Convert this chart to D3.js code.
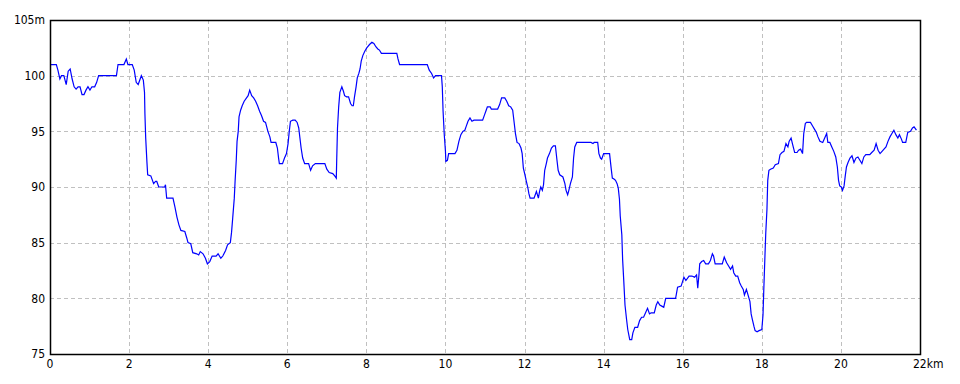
<!DOCTYPE html>
<html>
<head>
<meta charset="utf-8">
<script src="https://d3js.org/d3.v7.min.js"></script>
<style>
  body { margin: 0; background: #fff; }
  svg text { font-family: "DejaVu Sans Condensed", "DejaVu Sans", sans-serif; font-size: 12px; fill: #000; }
</style>
</head>
<body>
<svg id="chart"></svg>
<script>
// DATA: distance (km) and elevation (m)
var dist = [0, 0.16, 0.2, 0.25, 0.29, 0.35, 0.41, 0.46, 0.51, 0.56, 0.61, 0.66, 0.71, 0.76, 0.81, 0.86, 0.91, 0.96, 1.01, 1.06, 1.13, 1.18, 1.23, 1.68, 1.72, 1.87, 1.93, 1.97, 2.08, 2.13, 2.18, 2.23, 2.28, 2.31, 2.36, 2.39, 2.40, 2.42, 2.45, 2.47, 2.55, 2.62, 2.67, 2.70, 2.75, 2.90, 2.92, 2.95, 3.11, 3.16, 3.21, 3.26, 3.31, 3.41, 3.46, 3.49, 3.56, 3.61, 3.71, 3.76, 3.80, 3.87, 3.93, 3.98, 4.04, 4.10, 4.20, 4.25, 4.32, 4.37, 4.44, 4.49, 4.56, 4.59, 4.62, 4.66, 4.68, 4.71, 4.73, 4.76, 4.78, 4.82, 4.86, 4.91, 4.97, 5.01, 5.05, 5.10, 5.15, 5.20, 5.25, 5.30, 5.35, 5.40, 5.45, 5.51, 5.56, 5.59, 5.71, 5.75, 5.78, 5.80, 5.88, 5.93, 5.98, 6.02, 6.05, 6.08, 6.14, 6.20, 6.25, 6.29, 6.32, 6.35, 6.39, 6.44, 6.54, 6.59, 6.64, 6.71, 6.95, 7.00, 7.06, 7.15, 7.20, 7.24, 7.25, 7.27, 7.30, 7.33, 7.38, 7.42, 7.45, 7.50, 7.55, 7.60, 7.64, 7.67, 7.70, 7.74, 7.77, 7.81, 7.84, 7.87, 7.91, 7.96, 8.01, 8.08, 8.14, 8.19, 8.24, 8.29, 8.33, 8.38, 8.77, 8.80, 8.84, 9.54, 9.59, 9.65, 9.70, 9.75, 9.90, 9.92, 9.94, 9.97, 10.00, 10.01, 10.05, 10.08, 10.24, 10.29, 10.34, 10.39, 10.44, 10.49, 10.52, 10.57, 10.62, 10.67, 10.72, 10.94, 10.99, 11.03, 11.06, 11.13, 11.16, 11.32, 11.37, 11.42, 11.50, 11.55, 11.60, 11.65, 11.70, 11.74, 11.77, 11.81, 11.86, 11.91, 11.94, 11.97, 12.01, 12.04, 12.08, 12.11, 12.14, 12.24, 12.30, 12.35, 12.38, 12.41, 12.45, 12.48, 12.51, 12.55, 12.58, 12.63, 12.68, 12.73, 12.78, 12.82, 12.85, 12.89, 12.97, 13.02, 13.05, 13.09, 13.12, 13.16, 13.21, 13.24, 13.27, 13.32, 13.68, 13.73, 13.76, 13.85, 13.88, 13.92, 13.95, 14.00, 14.15, 14.19, 14.22, 14.27, 14.30, 14.34, 14.37, 14.40, 14.42, 14.46, 14.48, 14.51, 14.54, 14.58, 14.61, 14.66, 14.71, 14.74, 14.79, 14.86, 14.91, 14.96, 15.01, 15.06, 15.11, 15.16, 15.20, 15.28, 15.33, 15.37, 15.42, 15.47, 15.52, 15.57, 15.82, 15.87, 15.96, 16.03, 16.08, 16.16, 16.23, 16.30, 16.35, 16.38, 16.41, 16.43, 16.48, 16.53, 16.58, 16.65, 16.70, 16.75, 16.78, 16.82, 17.00, 17.05, 17.11, 17.16, 17.21, 17.26, 17.29, 17.34, 17.39, 17.44, 17.48, 17.53, 17.56, 17.61, 17.66, 17.70, 17.73, 17.76, 17.80, 17.83, 17.88, 17.93, 18.00, 18.03, 18.05, 18.08, 18.10, 18.13, 18.15, 18.18, 18.22, 18.29, 18.34, 18.42, 18.46, 18.51, 18.56, 18.61, 18.66, 18.69, 18.74, 18.78, 18.83, 18.89, 18.93, 18.98, 19.03, 19.06, 19.10, 19.13, 19.23, 19.28, 19.33, 19.38, 19.42, 19.47, 19.54, 19.59, 19.64, 19.67, 19.72, 19.77, 19.82, 19.87, 19.91, 19.94, 19.97, 20.01, 20.04, 20.08, 20.11, 20.14, 20.18, 20.23, 20.28, 20.33, 20.38, 20.43, 20.48, 20.53, 20.58, 20.63, 20.73, 20.78, 20.84, 20.89, 20.94, 20.99, 21.04, 21.09, 21.14, 21.19, 21.24, 21.29, 21.34, 21.39, 21.44, 21.48, 21.53, 21.56, 21.64, 21.69, 21.76, 21.81, 21.85, 21.91];

var elev = [101.0, 101.0, 100.5, 99.7, 100.0, 100.0, 99.2, 100.4, 100.6, 99.7, 99.0, 98.8, 99.0, 99.0, 98.3, 98.3, 98.7, 99.0, 98.7, 99.0, 99.0, 99.4, 100.0, 100.0, 101.0, 101.0, 101.5, 101.0, 101.0, 100.5, 99.4, 99.2, 99.7, 100.0, 99.6, 98.5, 96.6, 94.4, 92.3, 91.1, 91.0, 90.3, 90.5, 90.5, 90.0, 90.0, 90.2, 89.0, 89.0, 88.2, 87.3, 86.6, 86.1, 86.0, 85.4, 85.0, 84.9, 84.1, 84.0, 83.9, 84.2, 84.0, 83.6, 83.1, 83.3, 83.8, 83.8, 84.0, 83.6, 83.8, 84.3, 84.8, 85.0, 85.9, 87.2, 89.0, 90.5, 92.4, 94.1, 95.0, 96.3, 96.9, 97.3, 97.7, 98.0, 98.2, 98.7, 98.2, 98.0, 97.7, 97.3, 96.8, 96.4, 95.9, 95.8, 95.0, 94.5, 94.0, 94.0, 93.5, 92.6, 92.1, 92.1, 92.6, 93.0, 93.9, 95.0, 95.9, 96.0, 96.0, 95.8, 95.3, 94.4, 93.5, 92.6, 92.1, 92.1, 91.5, 91.9, 92.1, 92.1, 91.6, 91.3, 91.2, 91.0, 90.8, 92.4, 95.3, 97.2, 98.5, 99.0, 98.6, 98.2, 98.1, 98.1, 97.5, 97.3, 97.3, 98.1, 99.0, 99.8, 100.2, 100.6, 101.3, 101.8, 102.2, 102.5, 102.8, 103.0, 102.9, 102.6, 102.4, 102.3, 102.0, 102.0, 101.5, 101.0, 101.0, 100.5, 100.2, 99.8, 100.0, 100.0, 99.0, 96.8, 94.7, 93.2, 92.3, 92.4, 93.0, 93.0, 93.3, 94.1, 94.7, 95.0, 95.1, 95.4, 95.9, 96.2, 95.9, 96.0, 96.0, 96.5, 96.9, 97.2, 97.2, 97.0, 97.0, 97.4, 98.0, 98.0, 97.7, 97.3, 97.2, 96.9, 95.7, 94.8, 94.0, 93.9, 93.5, 93.0, 91.7, 91.1, 90.6, 90.0, 89.4, 89.0, 89.0, 89.6, 89.0, 89.6, 90.0, 89.7, 90.2, 91.5, 92.1, 92.6, 93.0, 93.5, 93.7, 93.7, 92.4, 91.5, 91.1, 90.9, 90.3, 89.7, 89.3, 89.7, 90.3, 90.9, 92.6, 93.6, 94.0, 94.0, 93.9, 94.0, 94.0, 93.0, 92.6, 92.5, 93.0, 93.0, 91.7, 90.8, 90.7, 90.6, 90.3, 89.9, 88.9, 87.4, 85.7, 83.5, 81.5, 79.4, 78.1, 77.2, 76.3, 76.3, 76.9, 77.4, 77.4, 78.0, 78.3, 78.3, 78.7, 79.1, 78.6, 78.7, 78.7, 79.4, 79.7, 79.4, 79.3, 79.2, 80.0, 80.0, 81.0, 81.1, 81.9, 81.6, 82.0, 82.0, 81.9, 82.1, 80.9, 82.1, 83.1, 83.3, 83.4, 83.1, 83.1, 83.4, 84.0, 83.8, 83.1, 83.1, 83.7, 83.2, 82.9, 82.6, 82.9, 82.3, 82.0, 82.0, 81.4, 81.1, 80.8, 80.3, 80.8, 80.2, 79.7, 78.6, 78.1, 77.5, 77.1, 77.0, 77.1, 77.2, 78.5, 80.8, 83.9, 85.9, 88.0, 90.6, 91.5, 91.6, 91.7, 92.0, 92.1, 92.9, 93.1, 93.2, 93.9, 93.6, 94.1, 94.4, 93.8, 93.1, 93.1, 93.3, 93.4, 93.0, 94.8, 95.7, 95.8, 95.8, 95.5, 95.2, 94.9, 94.5, 94.1, 94.0, 94.4, 94.8, 94.0, 94.0, 93.6, 93.2, 92.7, 91.8, 90.6, 90.1, 90.0, 89.7, 90.1, 91.0, 91.8, 92.2, 92.6, 92.8, 92.2, 92.6, 92.7, 92.4, 92.1, 92.7, 92.9, 92.9, 93.1, 93.3, 93.9, 93.3, 93.0, 93.2, 93.4, 93.6, 94.1, 94.5, 94.8, 95.1, 94.7, 94.4, 94.7, 94.3, 94.0, 94.0, 94.9, 95.0, 95.3, 95.4, 95.1];

var xTicks = [0, 2, 4, 6, 8, 10, 12, 14, 16, 18, 20, 22];
var yTicks = [75, 80, 85, 90, 95, 100, 105];

// SVG SETUP
var W = 960, H = 384;
var svg = d3.select('#chart')
    .attr('width', W)
    .attr('height', H);

var x = d3.scaleLinear().domain([0, 22]).range([50, 920]);
var y = d3.scaleLinear().domain([75, 105]).range([354, 20]);

// GRID
svg.append('g')
    .selectAll('line')
    .data(xTicks.slice(1, -1))
    .enter().append('line')
    .attr('x1', function(d) { return Math.round(x(d)) + 0.5; })
    .attr('x2', function(d) { return Math.round(x(d)) + 0.5; })
    .attr('y1', y(105))
    .attr('y2', y(75))
    .attr('stroke', '#c0c0c0')
    .attr('stroke-dasharray', '4,3');

svg.append('g')
    .selectAll('line')
    .data(yTicks.slice(1, -1))
    .enter().append('line')
    .attr('x1', x(0))
    .attr('x2', x(22))
    .attr('y1', function(d) { return Math.round(y(d)) + 0.5; })
    .attr('y2', function(d) { return Math.round(y(d)) + 0.5; })
    .attr('stroke', '#c0c0c0')
    .attr('stroke-dasharray', '4,3');

// PROFILE LINE
var pts = dist.map(function(d, i) { return [d, elev[i]]; });
var line = d3.line()
    .x(function(d) { return x(d[0]); })
    .y(function(d) { return y(d[1]); });

svg.append('path')
    .datum(pts)
    .attr('d', line)
    .attr('fill', 'none')
    .attr('stroke', '#0000ff')
    .attr('stroke-width', 1.2);

// FRAME
svg.append('rect')
    .attr('x', x(0) + 0.5)
    .attr('y', y(105) + 0.5)
    .attr('width', x(22) - x(0))
    .attr('height', y(75) - y(105))
    .attr('fill', 'none')
    .attr('stroke', '#000')
    .attr('stroke-width', 1.5);

// Y LABELS
svg.append('g')
    .selectAll('text')
    .data(yTicks)
    .enter().append('text')
    .attr('x', 45)
    .attr('y', function(d) { return y(d); })
    .attr('dy', '0.35em')
    .attr('text-anchor', 'end')
    .text(function(d) { return d === 105 ? d + 'm' : d; });

// X LABELS
svg.append('g')
    .selectAll('text')
    .data(xTicks)
    .enter().append('text')
    .attr('x', function(d) { return d === 22 ? x(d) - 7 : x(d); })
    .attr('y', 368)
    .attr('text-anchor', function(d) { return d === 22 ? 'start' : 'middle'; })
    .text(function(d) { return d === 22 ? d + 'km' : d; });
</script>
</body>
</html>
